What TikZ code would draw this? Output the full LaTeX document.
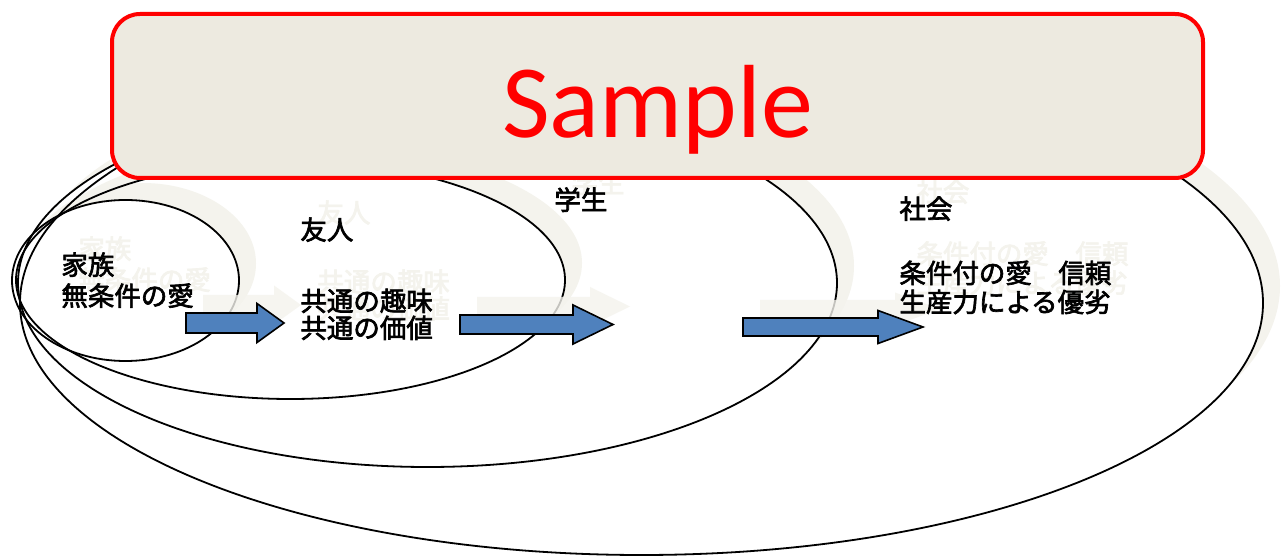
\documentclass[tikz,border=0pt]{standalone}
\usepackage{fontspec}
\newfontfamily\jpfont[FakeBold=2.5]{Noto Sans CJK JP}
\newfontfamily\samplefont{Carlito}
\usepackage{xcolor}
\usepackage{tikz}
\usetikzlibrary{shapes.geometric, positioning, calc}

\definecolor{ghostc}{RGB}{244,243,237}
\definecolor{arrowblue}{RGB}{79,129,189}
\definecolor{samplebg}{RGB}{237,234,224}

% block arrow: style, tail point, body length, head length, half shaft, half head
\newcommand{\blockarrow}[6]{%
	\path[#1] (#2) ++(0,#5) -- ++(#3,0) -- ++(0,#6-#5) -- ++(#4,-#6)
		-- ++(-#4,-#6) -- ++(0,#6-#5) -- ++(-#3,0) -- cycle;
}

\begin{document}
\begin{tikzpicture}[
		x=0.5pt, y=0.5pt,
		% Defining consistent styles
		ring/.style={
				ellipse,
				draw=black,
				line width=0.9pt,
				inner sep=0pt
			},
		jptext/.style={
				inner sep=0pt,
				anchor=north west,
				align=left,
				font=\jpfont\fontsize{13.25pt}{15pt}\selectfont,
				text=black
			},
		ghosttext/.style={
				jptext,
				text=ghostc
			},
		% Defining arrow styles
		flowarrow/.style={
				fill=arrowblue,
				draw=black,
				line width=0.8pt,
				line join=miter
			},
		ghostarrow/.style={
				fill=ghostc,
				opacity=0.8
			},
		samplebox/.style={
				rectangle,
				rounded corners=14pt,
				draw=red,
				line width=2pt,
				fill=samplebg,
				minimum width=545.5pt,
				minimum height=82pt,
				text=red,
				font=\samplefont\fontsize{52pt}{52pt}\selectfont,
				text height=42pt,
				text depth=0pt
			}
		]

		\useasboundingbox (0,0) rectangle (1285,557);

		\coordinate (family_c) at (125.5,276.5);
		\coordinate (friends_c) at (290.5,277);
		\coordinate (school_c) at (427.5,274);
		\coordinate (society_c) at (641.5,254);

		% Faint shadow copy behind each circle
		\fill[ghostc] ($(society_c)+(17,17)$) ellipse [x radius=621.5, y radius=252];
		\fill[white] (society_c) ellipse [x radius=621.5, y radius=252];
		\fill[ghostc] ($(school_c)+(17,17)$) ellipse [x radius=409.5, y radius=184];
		\fill[white] (school_c) ellipse [x radius=409.5, y radius=184];
		\fill[ghostc] ($(friends_c)+(17,17)$) ellipse [x radius=274.5, y radius=119];
		\fill[white] (friends_c) ellipse [x radius=274.5, y radius=119];
		\fill[ghostc] ($(family_c)+(17,17)$) ellipse [x radius=113.5, y radius=80.5];
		\fill[white] (family_c) ellipse [x radius=113.5, y radius=80.5];

		% Nested circles
		\node[ring, minimum width=621.5pt, minimum height=252pt] (society) at (society_c) {};
		\node[ring, minimum width=409.5pt, minimum height=184pt] (school) at (school_c) {};
		\node[ring, minimum width=274.5pt, minimum height=119pt] (friends) at (friends_c) {};
		\node[ring, minimum width=113.5pt, minimum height=80.5pt] (family) at (family_c) {};

		\coordinate (arr1) at (186,234);
		\coordinate (arr2) at (460,232.5);
		\coordinate (arr3) at (743,230);

		\blockarrow{ghostarrow}{$(arr1)+(17,18)$}{71}{27}{10}{19.5}
		\blockarrow{ghostarrow}{$(arr2)+(17,18)$}{113}{40}{9.5}{19.5}
		\blockarrow{ghostarrow}{$(arr3)+(17,18)$}{135}{45}{9}{16.5}

		\node[ghosttext, font=\jpfont\fontsize{13.25pt}{15.5pt}\selectfont] (ghost_family) at (78,321) {家族\\無条件の愛};
		\node[ghosttext] (ghost_friends) at (317,357) {友人};
		\node[ghosttext, font=\jpfont\fontsize{13.25pt}{13.5pt}\selectfont] (ghost_hobby) at (317,288) {共通の趣味\\共通の価値};
		\node[ghosttext] (ghost_school) at (571,387) {学生};
		\node[ghosttext] (ghost_society) at (916,378) {社会};
		\node[ghosttext, font=\jpfont\fontsize{13.25pt}{14.5pt}\selectfont] (ghost_trust) at (916,316) {条件付の愛　信頼\\生産力による優劣};

		% Flow arrows
		\blockarrow{flowarrow}{arr1}{71}{27}{10}{19.5}
		\blockarrow{flowarrow}{arr2}{113}{40}{9.5}{19.5}
		\blockarrow{flowarrow}{arr3}{135}{45}{9}{16.5}

		% Labels
		\node[jptext, font=\jpfont\fontsize{13.25pt}{15.5pt}\selectfont] (family_text) at (61,305) {家族\\無条件の愛};

		\node[jptext] (friends_title) at (300,340) {友人};
		\node[jptext, font=\jpfont\fontsize{13.25pt}{13.5pt}\selectfont,
			below=23pt of friends_title.south west, anchor=north west] (friends_text) {共通の趣味\\共通の価値};

		\node[jptext] (school_title) at (554,370) {学生};

		\node[jptext] (society_title) at (899,361) {社会};
		\node[jptext, font=\jpfont\fontsize{13.25pt}{14.5pt}\selectfont,
			below=19.5pt of society_title.south west, anchor=north west] (society_text) {条件付の愛　信頼\\生産力による優劣};

		% Overlay
		\node[samplebox] (sample) at (657.5,461) {Sample};

	\end{tikzpicture}
\end{document}
